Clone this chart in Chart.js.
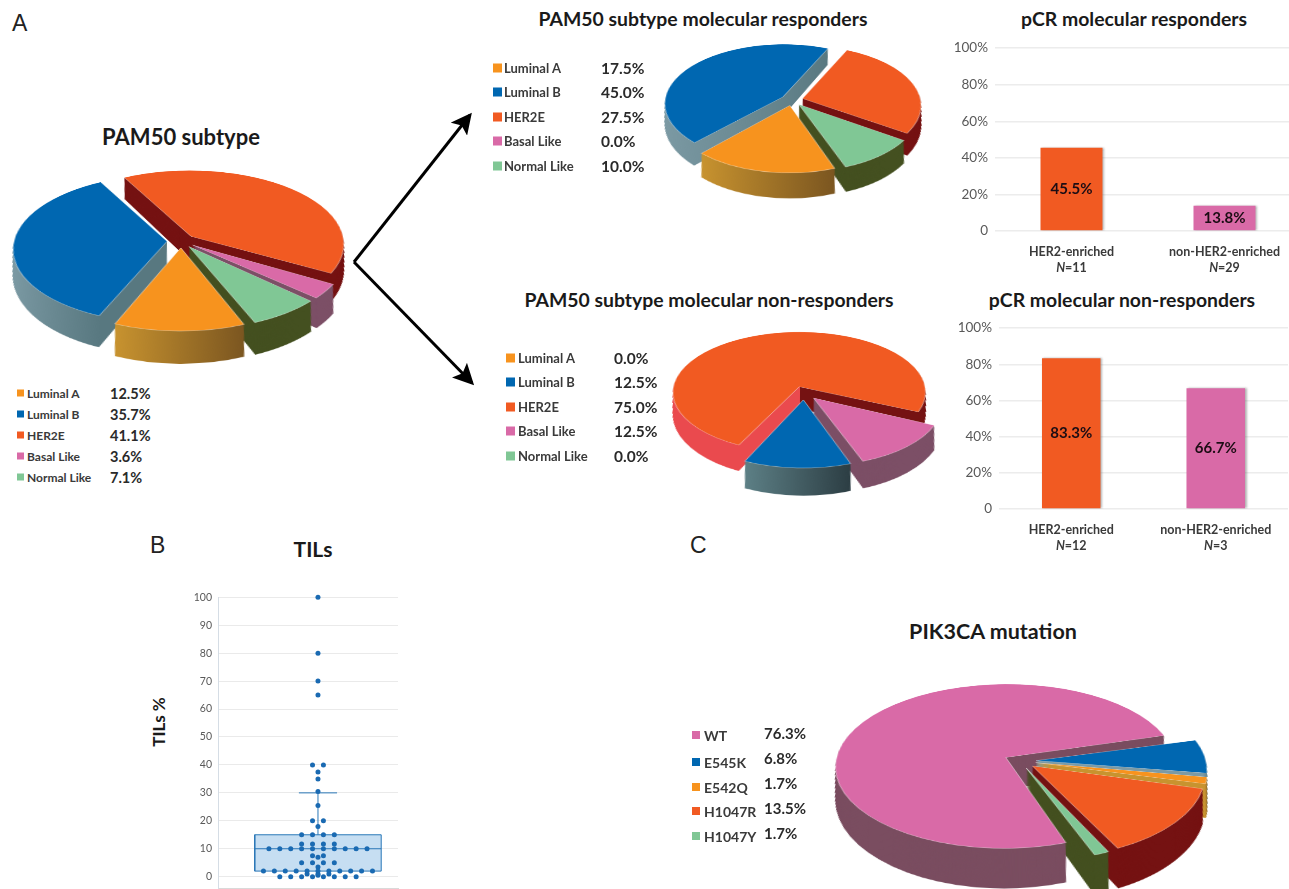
<!DOCTYPE html>
<html>
<head>
<meta charset="utf-8">
<title>PAM50, TILs and PIK3CA</title>
<script src="https://cdn.jsdelivr.net/npm/chart.js@4"></script>
<style>
  html, body { margin: 0; padding: 0; background: #fff; }
  #page { position: relative; width: 1289px; height: 889px; overflow: hidden; font-family: Lato, sans-serif; color: #222; }
  #page canvas { position: absolute; }
  .txt { position: absolute; white-space: nowrap; }
  .title { font-weight: 700; font-size: 19.4px; transform: translate(-50%, -50%); color: #1a1a1a; }
  .panel { font-family: "Liberation Sans", sans-serif; font-size: 23px; transform: translateY(-50%); color: #222; }
  .legend { font-weight: 700; color: #3a3a3a; transform: translateY(-50%); }
  .value { font-weight: 700; color: #2a2a2a; transform: translateY(-50%); }
  .swatch { position: absolute; transform: translateY(-50%); }
  svg { position: absolute; left: 0; top: 0; }
</style>
</head>
<body>
<div id="page">
  <svg width="1289" height="889">
    <defs>
      <marker id="head" markerWidth="7" markerHeight="7" refX="6" refY="3.5" orient="auto">
        <path d="M0,0 L7,3.5 L0,7 L1.5,3.5 Z" fill="#000"></path>
      </marker>
    </defs>
    <line x1="354" y1="262" x2="470" y2="115" stroke="#000" stroke-width="3" marker-end="url(#head)"></line>
    <line x1="354" y1="262" x2="472" y2="383" stroke="#000" stroke-width="3" marker-end="url(#head)"></line>
  </svg>
</div>
<script>
// pie data
var subtypes = ['Luminal A', 'Luminal B', 'HER2E', 'Basal Like', 'Normal Like'];
var allPatients = [12.5, 35.7, 41.1, 3.6, 7.1];
var responders = [17.5, 45.0, 27.5, 0.0, 10.0];
var nonResponders = [0.0, 12.5, 75.0, 12.5, 0.0];
var mutations = ['WT', 'E545K', 'E542Q', 'H1047R', 'H1047Y'];
var mutationPct = [76.3, 6.8, 1.7, 13.5, 1.7];

// bar data
var pcrGroups = ['HER2-enriched', 'non-HER2-enriched'];
var pcrResponders = [45.5, 13.8];
var pcrRespondersN = [11, 29];
var pcrNonResponders = [83.3, 66.7];
var pcrNonRespondersN = [12, 3];
var pcrTicks = [0, 20, 40, 60, 80, 100];

// TILs dots, x is the sideways spread of the dot plot
var tilsX = [0, 0, 0, 0, -0.5, 0.5, 0, 0, 0, 0, -0.5, 0.5, 0,
  -1.5, -0.5, 0.5, 1.5, -1.5, -0.5, 0.5, 1.5,
  -4.5, -3.5, -2.5, -1.5, -0.5, 0.5, 1.5, 2.5, 3.5, 4.5,
  -0.5, 0.5, 0, -1.5, -0.5, 0.5, 1.5, 0,
  -5, -4, -3, -2, -1, 0, 1, 2, 3, 4, 5, -1, 0, 1, 0,
  -3.5, -2.5, -1.5, -0.5, 0.5, 1.5, 2.5, 3.5];
var tilsY = [100, 80, 70, 65, 40, 40, 37.5, 35, 30.5, 25.5, 20, 20, 18,
  15, 15, 15, 15, 11.7, 11.7, 11.7, 11.7,
  10, 10, 10, 10, 10, 10, 10, 10, 10, 10,
  7.5, 7.5, 7, 5, 5, 5, 5, 3.5,
  2, 2, 2, 2, 2, 2, 2, 2, 2, 2, 2, 1, 1, 1, 0.5,
  0, 0, 0, 0, 0, 0, 0, 0];
var tilsTicks = [0, 10, 20, 30, 40, 50, 60, 70, 80, 90, 100];
var boxEdges = [-5.8, 5.8];
var boxRange = [2, 15];
var boxMedian = 10;
var capEdges = [-1.75, 1.75];
var whiskerTop = 30;

var ORANGE = '#f7931e', BLUE = '#0067b1', RED = '#f15a22', PINK = '#d96aa7', GREEN = '#80c795';
var subtypeColors = [ORANGE, BLUE, RED, PINK, GREEN];
var mutationColors = [PINK, BLUE, ORANGE, RED, GREEN];

var page = document.getElementById('page');

function addText(text, x, y, cls, css) {
    var el = document.createElement('div');
    el.className = 'txt ' + cls;
    el.textContent = text;
    el.style.left = x + 'px';
    el.style.top = y + 'px';
    if (css) el.style.cssText += css;
    page.appendChild(el);
    return el;
}

function addLegend(labels, values, colors, o) {
    for (var i = 0; i < labels.length; i++) {
        var sw = document.createElement('div');
        sw.className = 'swatch';
        sw.style.cssText = 'left:' + o.swatchX + 'px;top:' + o.ys[i] + 'px;width:' + o.swatch + 'px;height:' + o.swatch + 'px;background:' + colors[i];
        page.appendChild(sw);
        addText(labels[i], o.labelX, o.ys[i], 'legend', 'font-size:' + o.labelSize + 'px');
        var vy = o.valueYs ? o.valueYs[i] : o.ys[i];
        addText(values[i].toFixed(1) + '%', o.valueX, vy, 'value', 'font-size:' + o.valueSize + 'px');
    }
}

// side wall of a tilted pie: stack the arcs downwards before the top face is drawn
var extrude = {
    id: 'extrude',
    afterDatasetsUpdate: function(chart, args, opts) {
        // arc.draw grows thin exploded slices by offset * fix, undo that so all radii match
        chart.getDatasetMeta(0).data.forEach(function(arc) {
            var circ = arc.endAngle - arc.startAngle;
            var fix = 1 - Math.sin(Math.min(Math.PI, circ));
            arc.outerRadius = opts.radius - opts.off * fix;
        });
    },
    beforeDatasetsDraw: function(chart, args, opts) {
        var ctx = chart.ctx;
        var arcs = chart.getDatasetMeta(0).data;
        var fills = arcs.map(function(arc, i) {
            var stops = opts.sides[i];
            if (typeof stops === 'string') return stops;
            var a0 = Infinity, a1 = -Infinity;
            for (var t = 0; t <= 12; t++) {
                var a = arc.startAngle + (arc.endAngle - arc.startAngle) * t / 12;
                var px = arc.x + Math.cos(a) * opts.radius;
                a0 = Math.min(a0, px);
                a1 = Math.max(a1, px);
            }
            var g = ctx.createLinearGradient(a0, 0, a1 + 1, 0);
            stops.forEach(function(s) { g.addColorStop(s[0], s[1]); });
            return g;
        });
        var midX = arcs[0].x;
        for (var d = opts.depth; d >= 1; d--) {
            ctx.save();
            // pull each layer in so the page perspective leaves the walls upright
            ctx.translate(midX, d);
            ctx.scale(1 - d * opts.shrink, 1);
            ctx.translate(-midX, 0);
            arcs.forEach(function(arc, i) {
                var keep = arc.options;
                arc.options = {
                    backgroundColor: fills[i], borderColor: fills[i], borderWidth: 0,
                    offset: keep.offset, spacing: 0, circular: true, borderAlign: 'center', borderRadius: 0
                };
                arc.draw(ctx);
                arc.options = keep;
            });
            ctx.restore();
        }
    }
};

function addPie(labels, values, colors, sides, o) {
    var depth = Math.round(o.depth / (o.k * 1.2));
    var size = 2 * (o.r + depth + o.off + 30);
    var cv = document.createElement('canvas');
    cv.width = size;
    cv.height = size;
    page.appendChild(cv);
    new Chart(cv, {
        type: 'pie',
        data: { labels: labels, datasets: [{
            data: values,
            backgroundColor: colors,
            borderWidth: 0.8,
            borderColor: 'rgba(255,255,255,0.55)',
            offset: o.off * 4
        }] },
        plugins: [extrude],
        options: {
            responsive: false,
            animation: false,
            rotation: o.rotation,
            radius: o.r,
            events: [],
            plugins: {
                legend: { display: false }, tooltip: { enabled: false },
                extrude: { depth: depth, sides: sides, radius: o.r, off: o.off, shrink: Math.sqrt(1 - o.k * o.k) / o.persp }
            }
        }
    });
    cv.style.left = (o.cx - size / 2) + 'px';
    cv.style.top = (o.cy - size / 2) + 'px';
    cv.style.transformOrigin = '50% 50%';
    cv.style.transform = 'perspective(' + o.persp + 'px) rotateX(' + Math.acos(o.k) + 'rad)';
}

// value in the middle of the bar, second label line with the italic N
var barText = {
    id: 'barText',
    beforeDatasetDraw: function(chart) {
        var ctx = chart.ctx;
        ctx.save();
        ctx.shadowColor = 'rgba(90,90,90,0.45)';
        ctx.shadowBlur = 2;
        ctx.shadowOffsetX = 1.5;
        ctx.shadowOffsetY = 0;
    },
    afterDatasetDraw: function(chart) { chart.ctx.restore(); },
    afterDraw: function(chart, args, opts) {
        var ctx = chart.ctx;
        ctx.save();
        ctx.textAlign = 'center';
        ctx.textBaseline = 'middle';
        ctx.font = '700 15px Lato';
        ctx.fillStyle = '#1c0d14';
        chart.getDatasetMeta(0).data.forEach(function(bar, i) {
            var mid = (bar.y + bar.base) / 2;
            ctx.fillText(chart.data.datasets[0].data[i].toFixed(1) + '%', bar.x, mid);
        });
        var xs = chart.scales.x;
        ctx.textBaseline = 'middle';
        ctx.fillStyle = '#3a3a3a';
        opts.counts.forEach(function(n, i) {
            var x = xs.getPixelForTick(i), y = xs.top + 37;
            ctx.font = 'italic 700 12.5px Lato';
            var w1 = ctx.measureText('N').width;
            ctx.font = '700 12.5px Lato';
            var w2 = ctx.measureText('=' + n).width;
            ctx.textAlign = 'left';
            ctx.font = 'italic 700 12.5px Lato';
            ctx.fillText('N', x - (w1 + w2) / 2, y);
            ctx.font = '700 12.5px Lato';
            ctx.fillText('=' + n, x - (w1 + w2) / 2 + w1, y);
        });
        ctx.restore();
    }
};

function addBars(values, counts, colors, o) {
    var top = o.y100 - 14;
    var cv = document.createElement('canvas');
    cv.width = o.x1 - o.left;
    cv.height = 72 + o.y0 - top;
    page.appendChild(cv);
    new Chart(cv, {
        type: 'bar',
        data: { labels: pcrGroups, datasets: [{
            data: values, backgroundColor: colors, borderWidth: 0,
            categoryPercentage: 1, barPercentage: o.barPct
        }] },
        plugins: [barText],
        options: {
            responsive: false,
            animation: false,
            events: [],
            layout: { padding: { top: 10, left: 0, right: 0, bottom: 0 } },
            plugins: { legend: { display: false }, tooltip: { enabled: false }, barText: { counts: counts } },
            scales: {
                x: {
                    grid: { display: false },
                    border: { display: false },
                    ticks: { color: '#3a3a3a', padding: 5, maxRotation: 0, autoSkip: false, font: { family: 'Lato', size: 12.5, weight: '700' } },
                    afterFit: function(s) { s.height = 72; }
                },
                y: {
                    min: 0, max: 100,
                    afterBuildTicks: function(s) { s.ticks = pcrTicks.map(function(v) { return { value: v }; }); },
                    grid: { color: '#ececec', lineWidth: 1.5, drawTicks: false },
                    border: { display: false },
                    ticks: {
                        color: '#595959', padding: 7,
                        font: { family: 'Lato', size: 13.5 },
                        callback: function(v) { return v === 0 ? '0' : v + '%'; }
                    },
                    afterFit: function(s) { s.width = o.plotLeft - o.left; }
                }
            }
        }
    });
    cv.style.left = o.left + 'px';
    cv.style.top = top + 'px';
}

function addTils() {
    var dots = tilsX.map(function(x, i) { return { x: x, y: tilsY[i] }; });
    var box = [
        { x: boxEdges[0], y: boxRange[0] }, { x: boxEdges[1], y: boxRange[0] },
        { x: boxEdges[1], y: boxRange[1] }, { x: boxEdges[0], y: boxRange[1] }, { x: boxEdges[0], y: boxRange[0] }
    ];
    var lineStyle = { showLine: true, pointRadius: 0, borderColor: '#2a78b8', borderWidth: 1, tension: 0 };
    var cv = document.createElement('canvas');
    cv.width = 262;
    cv.height = 316;
    page.appendChild(cv);
    new Chart(cv, {
        type: 'scatter',
        data: { datasets: [
            { data: dots, backgroundColor: '#1a6ab2', borderWidth: 0, pointRadius: 2.5, order: 0, clip: false },
            Object.assign({ data: [{ x: boxEdges[0], y: boxMedian }, { x: boxEdges[1], y: boxMedian }], order: 1 }, lineStyle),
            Object.assign({ data: [{ x: capEdges[0], y: whiskerTop }, { x: capEdges[1], y: whiskerTop }], order: 1 }, lineStyle),
            Object.assign({ data: [{ x: 0, y: boxRange[1] }, { x: 0, y: whiskerTop }], order: 1 }, lineStyle),
            Object.assign({ data: box, fill: 'shape', backgroundColor: '#c6def2', order: 2 }, lineStyle)
        ] },
        options: {
            responsive: false,
            animation: false,
            events: [],
            layout: { padding: { top: 10, left: 0, right: 0, bottom: 0 } },
            plugins: { legend: { display: false }, tooltip: { enabled: false } },
            scales: {
                x: {
                    min: -9.17, max: 7.34,
                    grid: { display: false },
                    border: { color: '#d9d9d9' },
                    ticks: { display: false },
                    afterFit: function(s) { s.height = 2; }
                },
                y: {
                    min: -4.3, max: 100,
                    afterBuildTicks: function(s) { s.ticks = tilsTicks.map(function(v) { return { value: v }; }); },
                    grid: { color: '#eaeaea', drawTicks: false },
                    border: { color: '#d5dde5' },
                    ticks: { color: '#595959', padding: 6, font: { family: 'Lato', size: 10.5 } },
                    afterFit: function(s) { s.width = 78; }
                }
            }
        }
    });
    cv.style.left = '140px';
    cv.style.top = '585px';
}

// panel letters and titles
addText('A', 12, 23, 'panel');
addText('B', 150, 545, 'panel');
addText('C', 690, 545, 'panel');
addText('PAM50 subtype', 181, 136, 'title', 'font-size:22px');
addText('PAM50 subtype molecular responders', 703, 18, 'title');
addText('PAM50 subtype molecular non-responders', 709, 299, 'title');
addText('pCR molecular responders', 1134, 18, 'title');
addText('pCR molecular non-responders', 1122, 299, 'title');
addText('TILs', 313, 548, 'title', 'font-size:21px');
addText('PIK3CA mutation', 993, 631, 'title', 'font-size:21.5px');
addText('TILs %', 158, 722, 'title', 'font-size:17px;transform:translate(-50%,-50%) rotate(-90deg)');

var rim = {
    orange: [[0, '#c8932f'], [1, '#7a5520']],
    blue: [[0, '#7c9aa4'], [1, '#587880']],
    darkBlue: [[0, '#5d8086'], [1, '#2b3c42']]
};

addPie(subtypes, allPatients, subtypeColors,
    [rim.orange, rim.blue, '#751212', '#7c4f66', '#445020'],
    { cx: 181, cy: 241, r: 153, k: 0.48, persp: 1333, depth: 30, off: 14, rotation: 158 });
addLegend(subtypes, allPatients, subtypeColors,
    { swatchX: 17, swatch: 7, labelX: 27, valueX: 110, labelSize: 12, valueSize: 14.5, ys: [393, 414, 435, 456, 477] });

addPie(subtypes, responders, subtypeColors,
    [rim.orange, rim.blue, '#751212', '#7c4f66', '#445020'],
    { cx: 792, cy: 100, r: 118, k: 0.5, persp: 950, depth: 23, off: 11, rotation: 160 });
addLegend(subtypes, responders, subtypeColors,
    { swatchX: 493, swatch: 9, labelX: 504, valueX: 601, labelSize: 13, valueSize: 15.5, ys: [68, 92, 117, 141, 166] });

addPie(subtypes, nonResponders, subtypeColors,
    [rim.orange, rim.darkBlue, [[0, '#ea4a4e'], [0.5, '#ea4a4e'], [0.5, '#751212'], [1, '#751212']], '#7c4f66', '#6d6a1e'],
    { cx: 804, cy: 393, r: 127, k: 0.479, persp: 1237, depth: 26, off: 14, rotation: 160 });
addLegend(subtypes, nonResponders, subtypeColors,
    { swatchX: 506, swatch: 9, labelX: 518, valueX: 614, labelSize: 13, valueSize: 15.5, ys: [358, 382, 407, 431, 456] });

addPie(mutations, mutationPct, mutationColors,
    ['#7a4d60', rim.blue, rim.orange, '#751212', '#445020'],
    { cx: 1020, cy: 761, r: 170, k: 0.482, persp: 1390, depth: 37, off: 16, rotation: 160 });
addLegend(mutations, mutationPct, mutationColors,
    { swatchX: 692, swatch: 8, labelX: 704, valueX: 764, labelSize: 14, valueSize: 15, ys: [735, 762, 787, 811, 836], valueYs: [733, 758, 783, 808, 833] });

addBars(pcrResponders, pcrRespondersN, [RED, PINK],
    { left: 940, plotLeft: 995, x1: 1301, y100: 47, y0: 231, barPct: 0.405 });
addBars(pcrNonResponders, pcrNonRespondersN, [RED, PINK],
    { left: 940, plotLeft: 999, x1: 1288, y100: 327, y0: 509, barPct: 0.405 });

addTils();
</script>
</body>
</html>
